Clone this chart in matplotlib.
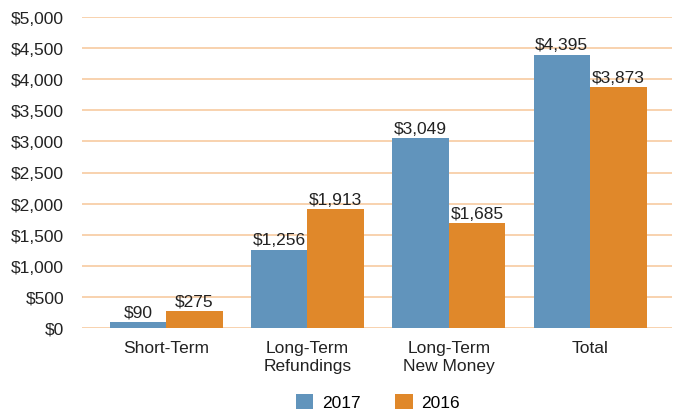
import matplotlib.pyplot as plt
import numpy as np

plt.rcParams['font.family'] = ['Liberation Sans', 'DejaVu Sans']

# Data
categories = ['Short-Term', 'Long-Term\nRefundings', 'Long-Term\nNew Money', 'Total']
values_2017 = [90, 1256, 3049, 4395]
values_2016 = [275, 1913, 1685, 3873]
series_names = ['2017', '2016']

blue = '#6194BC'
orange = '#E0882A'
grid_color = '#F7CBA1'
fs = 12.5

fig = plt.figure(figsize=(6.73, 4.14), dpi=100)
ax = fig.add_axes([82 / 673, 1 - 329 / 414, 590 / 673, 311 / 414])

x = np.arange(len(categories))
w = 0.4
b1 = ax.bar(x - w / 2, values_2017, w, color=blue, label=series_names[0], zorder=3)
b2 = ax.bar(x + w / 2, values_2016, w, color=orange, label=series_names[1], zorder=3)

for bars in (b1, b2):
    for rect in bars:
        v = rect.get_height()
        ax.text(rect.get_x() + rect.get_width() / 2, v + 40, f'${v:,.0f}',
                ha='center', va='bottom', fontsize=fs, color='#222222', zorder=4)

ax.set_ylim(0, 5000)
ax.set_xlim(-0.595, 3.58)
ax.set_yticks(np.arange(0, 5001, 500))
ax.set_yticklabels([f'${t:,.0f}' for t in np.arange(0, 5001, 500)])
ax.set_xticks(x)
ax.set_xticklabels(categories)
ax.tick_params(axis='both', length=0, labelsize=fs, colors='#222222')
ax.tick_params(axis='y', pad=13)
ax.tick_params(axis='x', pad=9)
ax.yaxis.grid(True, color=grid_color, linewidth=1.2, zorder=0)
for s in ax.spines.values():
    s.set_visible(False)

fig.legend(handles=[b1, b2], labels=series_names, loc='center',
           bbox_to_anchor=(378 / 673, 1 - 403 / 414), ncol=2, frameon=False,
           fontsize=fs, handlelength=1.0, handleheight=1.0, columnspacing=2.0,
           handletextpad=0.5)

fig.savefig('out.png', dpi=100)
